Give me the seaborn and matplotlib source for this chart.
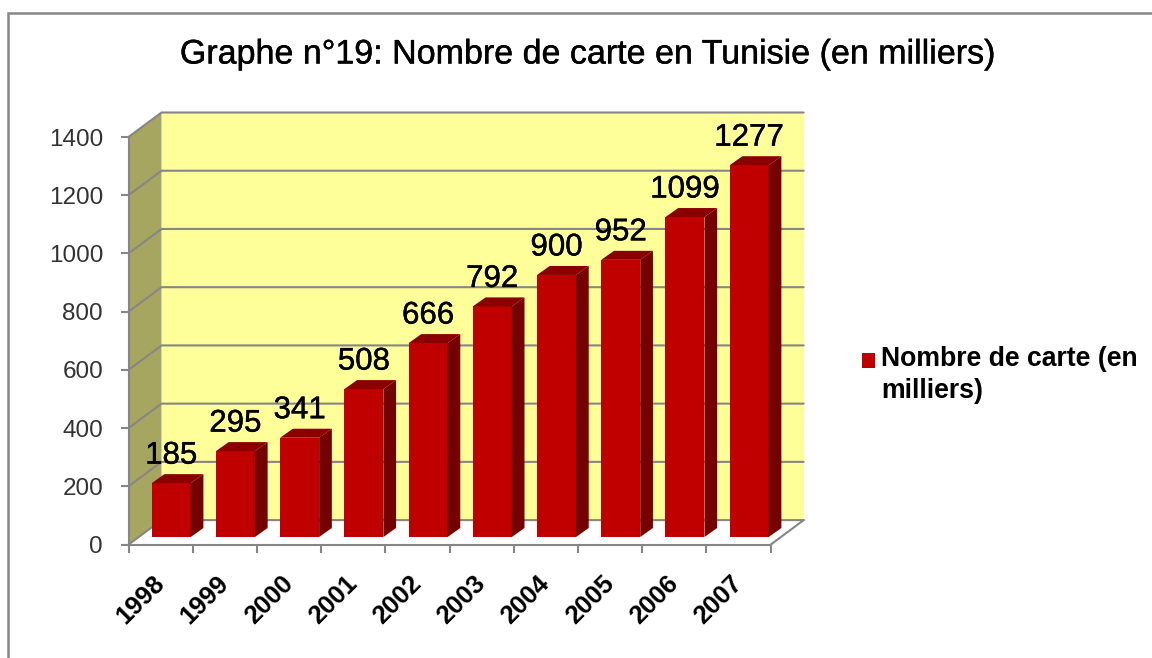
import numpy as np
import matplotlib
matplotlib.use("Agg")
import matplotlib.pyplot as plt
import matplotlib.patheffects as pe
from matplotlib.patches import Polygon, Rectangle
import seaborn as sns

years = ["1998", "1999", "2000", "2001", "2002", "2003", "2004", "2005", "2006", "2007"]
cartes = [185, 295, 341, 508, 666, 792, 900, 952, 1099, 1277]
y_ticks = [0, 200, 400, 600, 800, 1000, 1200, 1400]

titre = "Graphe n°19: Nombre de carte en Tunisie (en milliers)"
legende = "Nombre de carte (en\nmilliers)"

W, H = 1152, 658
GRIS = "#868686"
JAUNE = "#FFFF99"
OLIVE = "#A6A660"
ROUGE = "#C00000"
COTE = "#750000"
DESSUS = "#8A0000"

sns.set_theme(style="white")
plt.rcParams["font.family"] = ["Liberation Sans", "DejaVu Sans"]

fig = plt.figure(figsize=(W / 100, H / 100), dpi=100, facecolor="white")
gras = [pe.withStroke(linewidth=0.3, foreground="black")]


def axes_px(x0, y_top, x1, y_bot):
    return fig.add_axes([x0 / W, 1 - y_bot / H, (x1 - x0) / W, (y_bot - y_top) / H])


# cadre du graphique (a droite et en bas il sort de l'image)
fig.add_artist(Rectangle((8 / W, -0.1), 1.2, 1 - 13 / H + 0.1, transform=fig.transFigure,
                         fill=False, edgecolor=GRIS, lw=1.8))

# plan avant: murs, ticks et etiquettes
ax = axes_px(128.5, 137, 770.7, 544.6)
ax.set_xlim(-0.5, len(years) - 0.5)
ax.set_ylim(0, 1400)
ax.patch.set_visible(False)

px_x = (len(years)) / (770.7 - 128.5)
px_y = 1400 / (544.6 - 137)
dx = 33 * px_x
dy = 24.5 * px_y
xg, xd = -0.5, len(years) - 0.5

ax.add_patch(Polygon([(xg + dx, dy), (xd + dx, dy), (xd + dx, 1400 + dy), (xg + dx, 1400 + dy)],
                     facecolor=JAUNE, edgecolor="none", clip_on=False, zorder=1))
ax.add_patch(Polygon([(xg, 0), (xg + dx, dy), (xg + dx, 1400 + dy), (xg, 1400)],
                     facecolor=OLIVE, edgecolor="none", clip_on=False, zorder=1))
for t in y_ticks:
    ax.plot([xg, xg + dx, xd + dx], [t, t + dy, t + dy], color=GRIS, lw=1.5, clip_on=False, zorder=2,
            solid_joinstyle="miter")
ax.plot([xd, xd + dx, xd + dx], [0, dy, dy], color=GRIS, lw=1.5, clip_on=False, zorder=2)

ax.set_yticks(y_ticks)
ax.set_xticks(np.arange(len(years) + 1) - 0.5)
ax.set_xticklabels([])
ax.set_xticks(range(len(years)), years, minor=True)
ax.tick_params(axis="y", length=5.8, width=1.5, color=GRIS, pad=12.5, labelsize=17.5, labelcolor="#333333", left=True)
ax.tick_params(axis="x", which="major", length=5.8, width=1.5, color=GRIS, bottom=True)
ax.tick_params(axis="x", which="minor", length=0, pad=25.5, labelsize=18.5, labelcolor="black")
for lab in ax.get_xticklabels(minor=True):
    lab.set_rotation(45)
    lab.set_ha("right")
    lab.set_va("center")
    lab.set_rotation_mode("anchor")
    lab.set_fontweight("bold")
for cote in ["top", "right"]:
    ax.spines[cote].set_visible(False)
for cote in ["left", "bottom"]:
    ax.spines[cote].set_color(GRIS)
    ax.spines[cote].set_linewidth(1.5)

# barres, decalees un peu vers le fond
ax_b = axes_px(128.5 + 10.6, 137 - 7.6, 770.7 + 10.6, 544.6 - 7.6)
sns.barplot(x=years, y=cartes, color=ROUGE, saturation=1, width=0.607, label=legende, ax=ax_b, zorder=3,
            edgecolor=ROUGE, linewidth=0)
ax_b.set_xlim(-0.5, len(years) - 0.5)
ax_b.set_ylim(0, 1400)

bx = 12.7 * px_x
by = 9 * px_y
barres = ax_b.containers[0]
for p in barres:
    x0, x1, h = p.get_x(), p.get_x() + p.get_width(), p.get_height()
    ax_b.add_patch(Polygon([(x1, 0), (x1 + bx, by), (x1 + bx, h + by), (x1, h)],
                           facecolor=COTE, edgecolor="none", clip_on=False, zorder=3))
    ax_b.add_patch(Polygon([(x0, h), (x0 + bx, h + by), (x1 + bx, h + by), (x1, h)],
                           facecolor=DESSUS, edgecolor="none", clip_on=False, zorder=3))

for lab in ax_b.bar_label(barres, padding=9, fontsize=22.5, color="black", zorder=5):
    lab.set_path_effects(gras)
ax_b.axis("off")
ax_b.patch.set_visible(False)

handles, labels = ax_b.get_legend_handles_labels()
leg = ax_b.legend(handles, labels, loc="upper left", bbox_to_anchor=(862 / W, 1 - 346 / H),
                  bbox_transform=fig.transFigure, frameon=False, handlelength=0.5, handleheight=0.5,
                  handletextpad=0.23, borderpad=0, borderaxespad=0, labelspacing=0,
                  prop={"size": 19.2, "weight": "bold"})
for t in leg.get_texts():
    t.set_color("black")
    t.set_linespacing(1.3)
# le carre s'aligne sur la premiere ligne
carre = leg.legend_handles[0]
carre.set_y(carre.get_y() + 11)

fig.text(588 / W, 1 - 55 / H, titre, ha="center", va="center", fontsize=24.5, color="black", path_effects=gras)

fig.savefig("out.png", dpi=100)
